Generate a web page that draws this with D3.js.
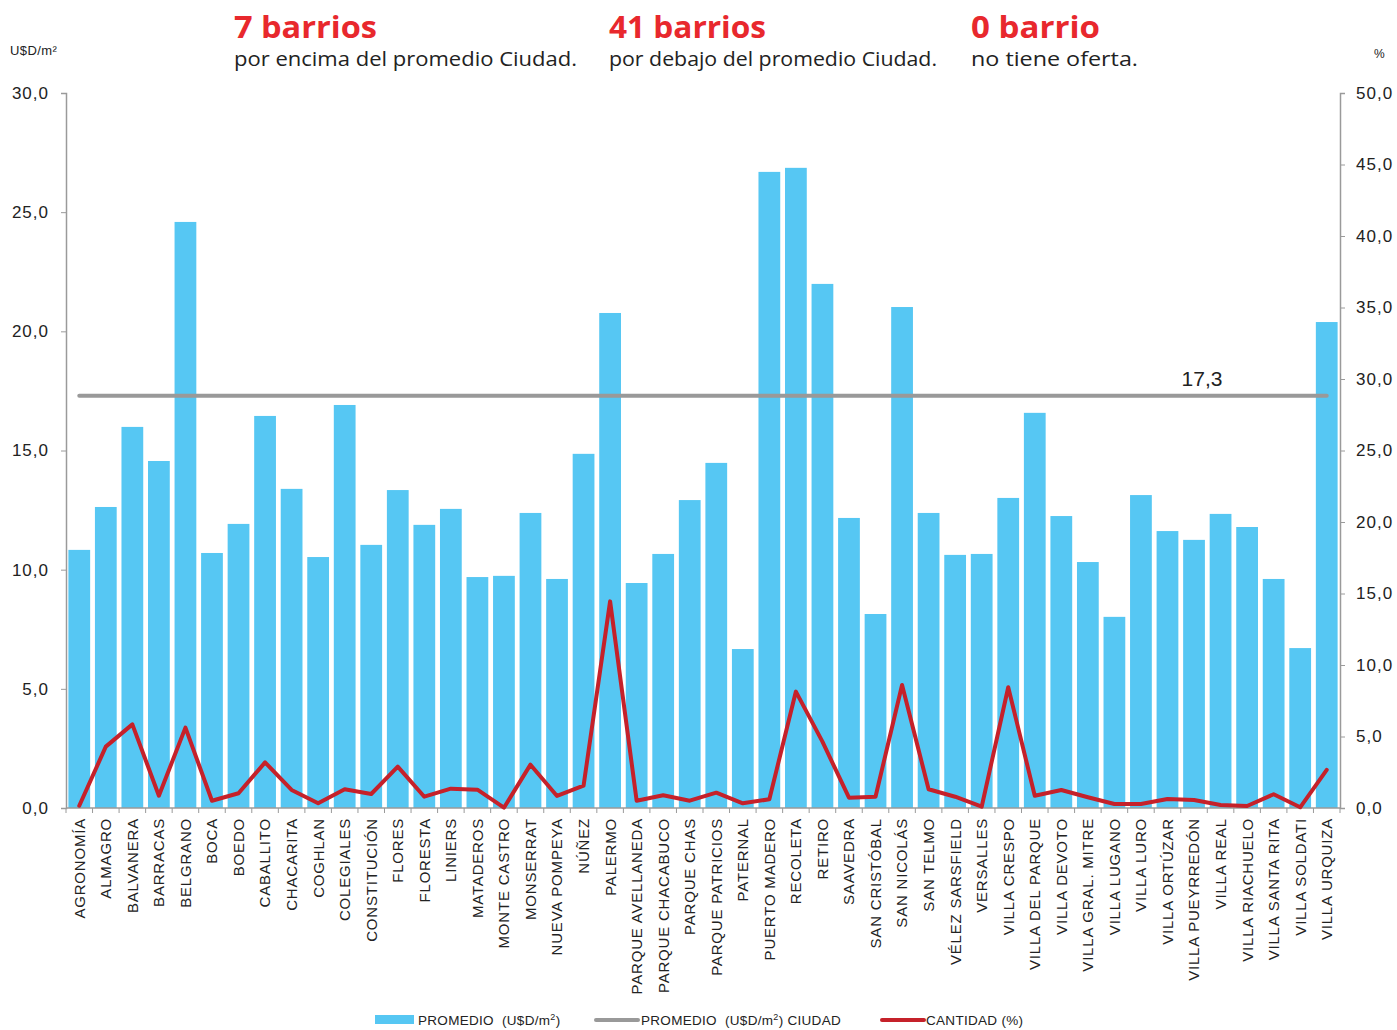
<!DOCTYPE html>
<html>
<head>
<meta charset="utf-8">
<script src="https://cdn.jsdelivr.net/npm/d3@7"></script>
<style>
  body { margin: 0; background: #fff; }
  svg text { font-family: "Liberation Sans", Arial, sans-serif; fill: #222; }
  .head { font-family: "Open Sans", Lato, sans-serif; }
  .axis path, .axis line { stroke: #9a9a9a; }
  .legend text { white-space: pre; }
</style>
</head>
<body>
<div id="chart"></div>
<script>
// Data
const barrios = ["AGRONOMÍA", "ALMAGRO", "BALVANERA", "BARRACAS", "BELGRANO", "BOCA", "BOEDO", "CABALLITO",
  "CHACARITA", "COGHLAN", "COLEGIALES", "CONSTITUCIÓN", "FLORES", "FLORESTA", "LINIERS", "MATADEROS",
  "MONTE CASTRO", "MONSERRAT", "NUEVA POMPEYA", "NÚÑEZ", "PALERMO", "PARQUE AVELLANEDA", "PARQUE CHACABUCO",
  "PARQUE CHAS", "PARQUE PATRICIOS", "PATERNAL", "PUERTO MADERO", "RECOLETA", "RETIRO", "SAAVEDRA",
  "SAN CRISTÓBAL", "SAN NICOLÁS", "SAN TELMO", "VÉLEZ SARSFIELD", "VERSALLES", "VILLA CRESPO",
  "VILLA DEL PARQUE", "VILLA DEVOTO", "VILLA GRAL. MITRE", "VILLA LUGANO", "VILLA LURO", "VILLA ORTÚZAR",
  "VILLA PUEYRREDÓN", "VILLA REAL", "VILLA RIACHUELO", "VILLA SANTA RITA", "VILLA SOLDATI", "VILLA URQUIZA"];

const promedio = [10.83, 12.63, 15.99, 14.56, 24.59, 10.70, 11.92, 16.45, 13.39, 10.53, 16.91, 11.04,
  13.34, 11.88, 12.55, 9.69, 9.74, 12.38, 9.61, 14.86, 20.77, 9.44, 10.66, 12.92, 14.48, 6.67, 26.69,
  26.86, 21.99, 12.17, 8.14, 21.02, 12.38, 10.62, 10.66, 13.01, 16.58, 12.25, 10.32, 8.02, 13.13, 11.62,
  11.25, 12.34, 11.79, 9.61, 6.71, 20.39];

const cantidad = [0.16, 4.29, 5.85, 0.86, 5.62, 0.51, 1.03, 3.19, 1.26, 0.33, 1.31, 0.98, 2.89, 0.79,
  1.35, 1.28, 0.02, 3.03, 0.84, 1.56, 14.45, 0.51, 0.89, 0.51, 1.07, 0.33, 0.61, 8.14, 4.64, 0.72, 0.79,
  8.60, 1.31, 0.79, 0.09, 8.44, 0.86, 1.26, 0.75, 0.28, 0.28, 0.63, 0.56, 0.21, 0.14, 0.96, 0.05, 2.66];

const promedioCiudad = 17.3;

const leftTicks = [0, 5, 10, 15, 20, 25, 30];
const rightTicks = [0, 5, 10, 15, 20, 25, 30, 35, 40, 45, 50];

const resumenTitulos = ["7 barrios", "41 barrios", "0 barrio"];
const resumenTextos = ["por encima del promedio Ciudad.", "por debajo del promedio Ciudad.", "no tiene oferta."];

// Colors
const barColor = "#56c7f3";
const avgColor = "#999999";
const lineColor = "#c5212a";
const headColor = "#e8282d";

const W = 1397, H = 1030;
const x0 = 66, x1 = 1340, yTop = 93, yBot = 808;

const svg = d3.select("#chart").append("svg")
  .attr("width", W).attr("height", H);

// Scales
const x = d3.scaleBand().domain(barrios).range([x0, x1]).paddingInner(0.18).paddingOuter(0.09);
const yL = d3.scaleLinear().domain([0, 30]).range([yBot, yTop]);
const yR = d3.scaleLinear().domain([0, 50]).range([yBot, yTop]);
const fmt = d => d3.format(".1f")(d).replace(".", ",");

// Header
const headX = [234, 609, 971];
const titleW = [143, 157, 129];
const textW = [343, 328, 167];
resumenTitulos.forEach((t, i) => {
  svg.append("text").attr("class", "head")
    .attr("x", headX[i]).attr("y", 38)
    .attr("textLength", titleW[i]).attr("lengthAdjust", "spacingAndGlyphs")
    .style("fill", headColor).style("font-size", "31px").style("font-weight", 700)
    .text(t);
  svg.append("text").attr("class", "head")
    .attr("x", headX[i]).attr("y", 66)
    .attr("textLength", textW[i]).attr("lengthAdjust", "spacingAndGlyphs")
    .style("font-size", "20px")
    .text(resumenTextos[i]);
});

svg.append("text").attr("x", 10).attr("y", 55).style("font-size", "13px").style("letter-spacing", "0.4px").text("U$D/m²");
svg.append("text").attr("x", 1374).attr("y", 58).style("font-size", "12px").text("%");

// Bars
svg.selectAll(".bar").data(promedio).enter().append("rect")
  .attr("class", "bar")
  .attr("x", (d, i) => x(barrios[i]))
  .attr("width", x.bandwidth())
  .attr("y", d => yL(d))
  .attr("height", d => yBot - yL(d))
  .attr("fill", barColor);

// Axes
const leftAxis = svg.append("g").attr("class", "axis")
  .attr("transform", `translate(${x0},0)`)
  .call(d3.axisLeft(yL).tickValues(leftTicks).tickFormat(fmt).tickSize(5).tickPadding(12));
const rightAxis = svg.append("g").attr("class", "axis")
  .attr("transform", `translate(${x1},0)`)
  .call(d3.axisRight(yR).tickValues(rightTicks).tickFormat(fmt).tickSize(5).tickPadding(11));
[leftAxis, rightAxis].forEach(a => {
  a.selectAll("text").style("font-size", "17px").style("fill", "#222").style("letter-spacing", "1px")
    .style("font-family", "'Liberation Sans', Arial, sans-serif");
  a.select(".domain").attr("stroke-width", 1.5);
});

// Bottom axis with ticks between categories
const bottom = svg.append("g").attr("class", "axis");
bottom.append("line").attr("x1", x0).attr("x2", x1).attr("y1", yBot).attr("y2", yBot)
  .attr("stroke", "#9a9a9a").attr("stroke-width", 1.5);
const step = x.step();
bottom.selectAll(".tk").data(d3.range(barrios.length + 1)).enter().append("line")
  .attr("x1", i => x0 + step * x.paddingOuter() - step * x.paddingInner() / 2 + i * step)
  .attr("x2", i => x0 + step * x.paddingOuter() - step * x.paddingInner() / 2 + i * step)
  .attr("y1", yBot).attr("y2", yBot + 5)
  .attr("stroke", "#9a9a9a");

svg.selectAll(".xl").data(barrios).enter().append("text")
  .attr("class", "xl")
  .attr("transform", d => `translate(${x(d) + x.bandwidth() / 2},818) rotate(-90)`)
  .attr("text-anchor", "end")
  .attr("dy", "0.36em")
  .style("font-size", "15px")
  .style("letter-spacing", "0.8px")
  .text(d => d);

// City average line
svg.append("line")
  .attr("x1", x(barrios[0]) + x.bandwidth() / 2)
  .attr("x2", x(barrios[barrios.length - 1]) + x.bandwidth() / 2)
  .attr("y1", yL(promedioCiudad)).attr("y2", yL(promedioCiudad))
  .attr("stroke", avgColor).attr("stroke-width", 4).attr("stroke-linecap", "round");
svg.append("text")
  .attr("x", x("VILLA PUEYRREDÓN") + x.bandwidth() / 2 + 8)
  .attr("y", yL(promedioCiudad) - 10)
  .attr("text-anchor", "middle")
  .style("font-size", "21px")
  .text(fmt(promedioCiudad));

// Cantidad line
const line = d3.line()
  .x((d, i) => x(barrios[i]) + x.bandwidth() / 2)
  .y(d => yR(d));
svg.append("path").datum(cantidad)
  .attr("d", line)
  .attr("fill", "none")
  .attr("stroke", lineColor)
  .attr("stroke-width", 4)
  .attr("stroke-linejoin", "round")
  .attr("stroke-linecap", "round");

// Legend
const lg = svg.append("g").attr("class", "legend").attr("transform", "translate(0,1020)")
  .style("font-size", "13.5px").style("letter-spacing", "0.3px");
lg.append("rect").attr("x", 375).attr("y", -5).attr("width", 39).attr("height", 9).attr("fill", barColor);
const t1 = lg.append("text").attr("x", 418).attr("y", 5);
t1.append("tspan").text("PROMEDIO  (U$D/m");
t1.append("tspan").attr("dy", -5).style("font-size", "9px").text("2");
t1.append("tspan").attr("dy", 5).text(")");

lg.append("line").attr("x1", 596).attr("x2", 638).attr("y1", 0).attr("y2", 0)
  .attr("stroke", avgColor).attr("stroke-width", 4).attr("stroke-linecap", "round");
const t2 = lg.append("text").attr("x", 641).attr("y", 5);
t2.append("tspan").text("PROMEDIO  (U$D/m");
t2.append("tspan").attr("dy", -5).style("font-size", "9px").text("2");
t2.append("tspan").attr("dy", 5).text(") CIUDAD");

lg.append("line").attr("x1", 882).attr("x2", 924).attr("y1", 0).attr("y2", 0)
  .attr("stroke", lineColor).attr("stroke-width", 4).attr("stroke-linecap", "round");
lg.append("text").attr("x", 926).attr("y", 5).text("CANTIDAD (%)");
</script>
</body>
</html>
